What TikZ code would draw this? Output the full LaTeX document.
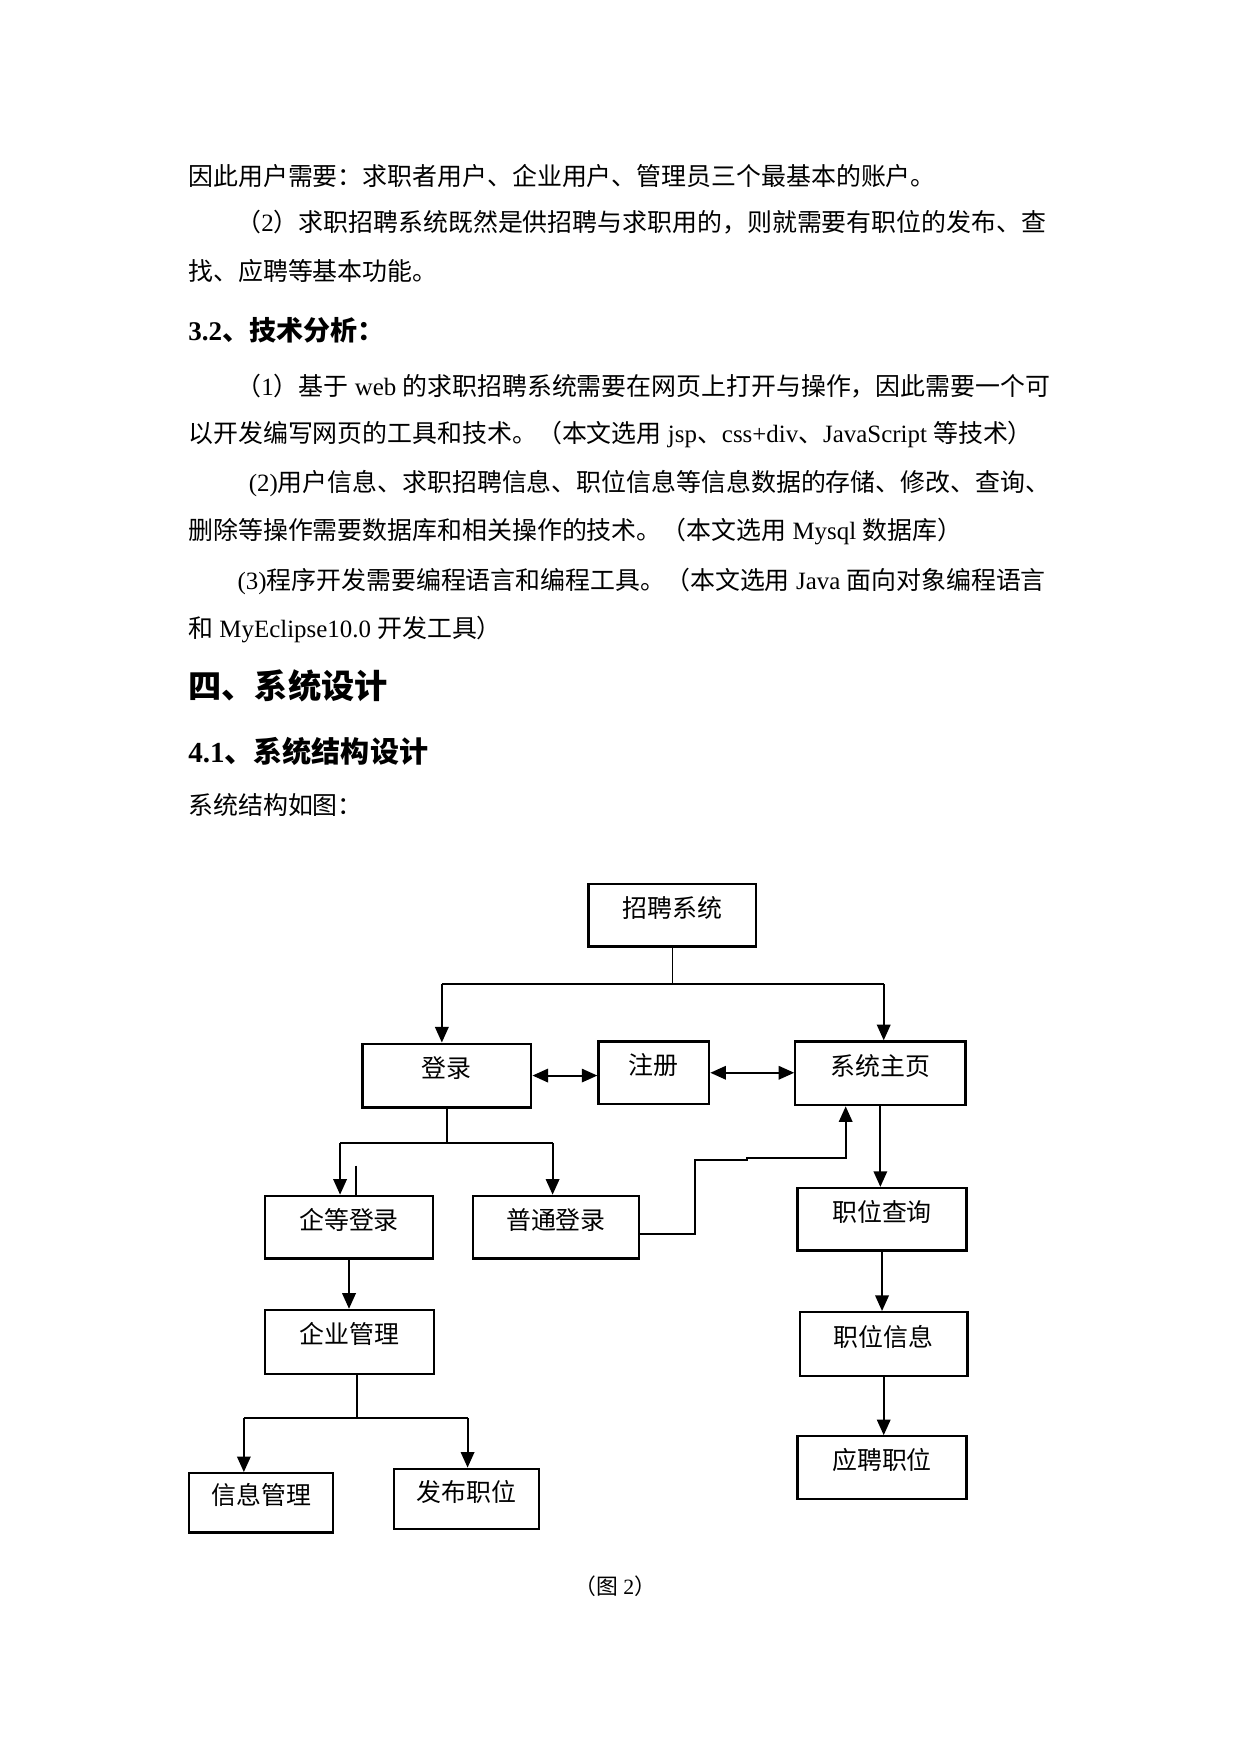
\documentclass[tikz,border=0pt]{standalone}
\usepackage{fontspec}
\setmainfont{Noto Sans CJK SC}
\newfontfamily\tnr{Liberation Serif}
\usetikzlibrary{arrows.meta}

\newcommand\pxu{0.018936cm}
\newcommand\wen[1]{{\tnr #1}}

\tikzset{
  txt/.style={anchor=west, inner sep=0pt, font=\fontsize{12pt}{14pt}\selectfont},
  box/.style 2 args={draw, line width=1.1pt, minimum width=#1*\pxu, minimum height=#2*\pxu,
    inner sep=0pt, text height=8pt, text depth=6pt, font=\fontsize{12pt}{14pt}\selectfont},
  link/.style={line width=0.9pt},
  arr/.style={link, -{Triangle[length=7.5pt, width=6.5pt]}},
  darr/.style={link, {Triangle[length=7.5pt, width=6.5pt]}-{Triangle[length=7.5pt, width=6.5pt]}}
}

\begin{document}
\begin{tikzpicture}[x=\pxu, y=-\pxu]

  % Seite
  \fill[white] (0,0) rectangle (1109,1568);

  % Fliesstext
  \node[txt] (l1) at (168,157) {因此用户需要：求职者用户、企业用户、管理员三个最基本的账户。};
  \node[txt] (l2) at (211,199) {（\wen{2}）求职招聘系统既然是供招聘与求职用的，则就需要有职位的发布、查};
  \node[txt] (l3) at (168,242) {找、应聘等基本功能。};
  \node[txt, font=\fontsize{13pt}{15pt}\selectfont\bfseries] (h32) at (168,295) {\wen{3.2}、技术分析：};
  \node[txt] (l4) at (211,345) {（\wen{1}）基于\wen{ web }的求职招聘系统需要在网页上打开与操作，因此需要一个可};
  \node[txt] (l5) at (168,388) {以开发编写网页的工具和技术。（本文选用\wen{ jsp}、\wen{css+div}、\wen{JavaScript }等技术）};
  \node[txt] (l6) at (222,432) {\wen{(2)}用户信息、求职招聘信息、职位信息等信息数据的存储、修改、查询、};
  \node[txt] (l7) at (168,475) {删除等操作需要数据库和相关操作的技术。（本文选用\wen{ Mysql }数据库）};
  \node[txt] (l8) at (212,520) {\wen{(3)}程序开发需要编程语言和编程工具。（本文选用\wen{ Java }面向对象编程语言};
  \node[txt] (l9) at (168,563) {和\wen{ MyEclipse10.0 }开发工具）};
  \node[txt, font=\fontsize{16pt}{18pt}\selectfont\bfseries] (h4) at (168,613) {四、系统设计};
  \node[txt, font=\fontsize{14pt}{16pt}\selectfont\bfseries] (h41) at (168,672) {\wen{4.1}、系统结构设计};
  \node[txt] (l10) at (168,720) {系统结构如图：};

  % Kaesten
  \node[box={150}{56}] (top) at (601,818) {招聘系统};
  \node[box={151}{57}] (login) at (399.5,961.5) {登录};
  \node[box={99}{56}] (reg) at (584.5,959) {注册};
  \node[box={152}{57}] (home) at (787,959.5) {系统主页};
  \node[box={150}{56}] (qdl) at (312,1097) {企等登录};
  \node[box={148}{56}] (ptdl) at (497,1097) {普通登录};
  \node[box={151}{56}] (zwcx) at (788.5,1090) {职位查询};
  \node[box={150}{57}] (zwxx) at (790,1201.5) {职位信息};
  \node[box={151}{56}] (ypzw) at (788.5,1312) {应聘职位};
  \node[box={151}{57}] (qygl) at (312.5,1199.5) {企业管理};
  \node[box={129}{53}] (xxgl) at (233.5,1343.5) {信息管理};
  \node[box={130}{54}] (fbzw) at (417,1340) {发布职位};

  % Verbindungen
  \coordinate (busL) at (395,880);
  \coordinate (busR) at (790,880);
  \draw[line width=0.5pt] (top.south) -- (top.south |- busL);
  \draw[link] (busL) -- (busR);
  \draw[arr] (busL) -- (busL |- login.north);
  \draw[arr] (busR) -- (busR |- home.north);
  \draw[darr] (login.east) -- (login.east -| reg.west);
  \draw[darr] (reg.east) -- (reg.east -| home.west);

  \coordinate (qL) at (304,1022);
  \coordinate (qR) at (494,1022);
  \coordinate (stub) at (318,1042);
  \draw[link] (login.south) -- (login.south |- qL);
  \draw[link] (qL) -- (qR);
  \draw[arr] (qL) -- (qL |- qdl.north);
  \draw[arr] (qR) -- (qR |- ptdl.north);
  \draw[link] (stub) -- (stub |- qdl.north);

  \coordinate (up) at (756,1035);
  \draw[arr] (ptdl.east) ++(0,6) -- (621,1103) -- (621,1037) -- (668,1037) -- (668,1035) -- (up) -- (up |- home.south);

  \draw[arr] (home.south) -- (home.south |- zwcx.north);
  \draw[arr] (zwcx.south) -- (zwcx.south |- zwxx.north);
  \draw[arr] (zwxx.south) -- (zwxx.south |- ypzw.north);
  \draw[arr] (qdl.south) -- (qdl.south |- qygl.north);

  \coordinate (fL) at (218,1268);
  \coordinate (fR) at (418,1268);
  \coordinate (fM) at (319,1268);
  \draw[link] (fM |- qygl.south) -- (fM);
  \draw[link] (fL) -- (fR);
  \draw[arr] (fL) -- (fL |- xxgl.north);
  \draw[arr] (fR) -- (fR |- fbzw.north);

  % Bildunterschrift
  \node[font=\fontsize{10.5pt}{12pt}\selectfont, inner sep=0pt] (cap) at (550,1418) {（图\wen{ 2}）};

\end{tikzpicture}
\end{document}
